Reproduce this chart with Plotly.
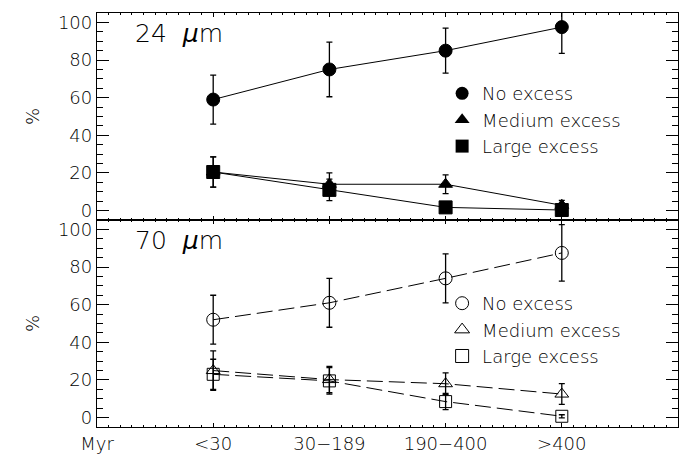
import plotly.graph_objects as go

# ---------------- data ----------------
age_bins = ["<30", "30−189", "190−400", ">400"]
bin_pos = [1, 2, 3, 4]
tick_pos = [0, 1, 2, 3, 4]
tick_text = ["Myr"] + age_bins

# 24 micron
no24 = [59, 75, 85, 97.5]
no24_err = [13, 14.5, 12, 14]
med24 = [20.5, 14, 14, 2.8]
med24_err = [8, 6, 5, 2.6]
lrg24 = [20.5, 11, 1.7, 0.3]
lrg24_err = [8, 5.7, 1.2, 0.5]

# 70 micron
no70 = [52, 61, 74, 87.5]
no70_err = [13, 13, 13, 15]
med70 = [25, 20.2, 18, 12.5]
med70_err = [10.5, 7, 5.8, 5.5]
lrg70 = [23, 19.5, 8.5, 0.7]
lrg70_err = [8, 7, 4.3, 0.8]

labels = ["No excess", "Medium excess", "Large excess"]

FONT = "DejaVu Sans, sans-serif"
W = 200
BLACK = "black"


def fnt(size):
    return dict(family=FONT, size=size, color=BLACK, weight=W)


fig = go.Figure()


def add_series(y, err, symbol, size, xa, ya, dash):
    fig.add_trace(go.Scatter(
        x=bin_pos, y=y, xaxis=xa, yaxis=ya, mode="lines+markers",
        line=dict(color=BLACK, width=1, dash=dash),
        marker=dict(symbol=symbol, size=size, color=BLACK,
                    line=dict(color=BLACK, width=1)),
        error_y=dict(type="data", array=err, visible=True, color=BLACK,
                     thickness=1.3, width=3),
        showlegend=False, hoverinfo="skip"))


add_series(no24, no24_err, "circle", 13, "x2", "y2", "solid")
add_series(med24, med24_err, "triangle-up", 12, "x2", "y2", "solid")
add_series(lrg24, lrg24_err, "square", 13, "x2", "y2", "solid")

add_series(no70, no70_err, "circle-open", 13, "x", "y", "16px,6px")
add_series(med70, med70_err, "triangle-up-open", 12, "x", "y", "16px,6px")
add_series(lrg70, lrg70_err, "square-open", 12, "x", "y", "16px,6px")

# legend keys (marker only)
for lab, sym in zip(labels, ["circle", "triangle-up", "square"]):
    fig.add_trace(go.Scatter(x=[None], y=[None], xaxis="x2", yaxis="y2",
                             mode="markers", name=lab, legend="legend",
                             marker=dict(symbol=sym, size=13, color=BLACK)))
for lab, sym in zip(labels, ["circle-open", "triangle-up-open", "square-open"]):
    fig.add_trace(go.Scatter(x=[None], y=[None], xaxis="x", yaxis="y",
                             mode="markers", name=lab, legend="legend2",
                             marker=dict(symbol=sym, size=13, color=BLACK,
                                         line=dict(color=BLACK, width=1))))

xcommon = dict(range=[0, 5], tickmode="array", tickvals=tick_pos,
               ticks="inside", ticklen=4, tickwidth=1, tickcolor=BLACK,
               minor=dict(tickmode="linear", tick0=0, dtick=0.1, ticks="inside",
                          ticklen=2, tickwidth=1, tickcolor=BLACK, showgrid=False),
               showline=True, linecolor=BLACK, linewidth=1.3, mirror="ticks",
               showgrid=False, zeroline=False)
ycommon = dict(range=[-5, 105], tickmode="array", tickvals=[0, 20, 40, 60, 80, 100],
               ticks="inside", ticklen=12, tickwidth=1, tickcolor=BLACK,
               minor=dict(tickmode="linear", tick0=0, dtick=5, ticks="inside",
                          ticklen=6, tickwidth=1, tickcolor=BLACK, showgrid=False),
               showline=True, linecolor=BLACK, linewidth=1.3, mirror="ticks",
               showgrid=False, zeroline=False,
               tickfont=fnt(18),
               title=dict(text="%", font=fnt(18), standoff=13))

# the page body adds an 8 px offset; the figure is sized so the plot area
# lands at x 97..678, y 13..427 in the 696x462 window
fig.update_layout(
    width=688, height=454,
    margin=dict(l=89, r=18, t=5, b=35),
    paper_bgcolor="white", plot_bgcolor="white",
    font=fnt(18),
    xaxis=dict(**xcommon, anchor="y", ticktext=tick_text, tickfont=fnt(18)),
    xaxis2=dict(**xcommon, anchor="y2", matches="x", showticklabels=False),
    yaxis=dict(**ycommon, domain=[0, 0.5], anchor="x"),
    yaxis2=dict(**ycommon, domain=[0.5, 1], anchor="x2"),
    legend=dict(x=0.594, y=0.85, xanchor="left", yanchor="top",
                bgcolor="rgba(0,0,0,0)", font=fnt(18),
                itemwidth=30, tracegroupgap=0),
    legend2=dict(x=0.594, y=0.343, xanchor="left", yanchor="top",
                 bgcolor="rgba(0,0,0,0)", font=fnt(18),
                 itemwidth=30, tracegroupgap=0),
    annotations=[
        dict(text="24  <i>µ</i>m", xref="x2 domain", yref="y2 domain", x=0.062, y=0.9,
             xanchor="left", yanchor="middle", showarrow=False, font=fnt(25)),
        dict(text="70  <i>µ</i>m", xref="x domain", yref="y domain", x=0.062, y=0.9,
             xanchor="left", yanchor="middle", showarrow=False, font=fnt(25)),
    ],
)

fig.write_html("out.html")
